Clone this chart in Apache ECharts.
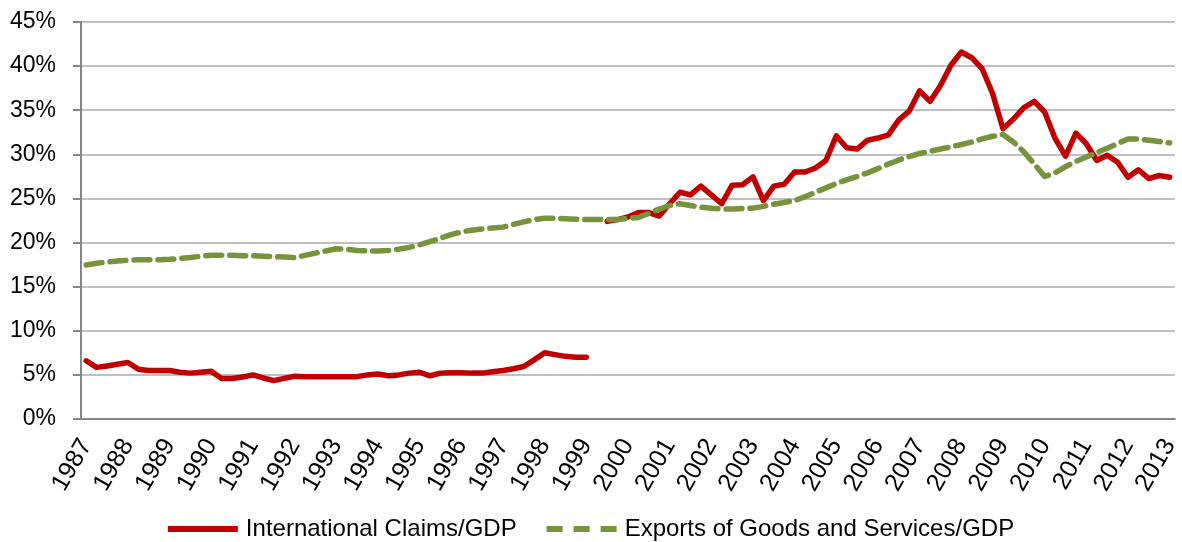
<!DOCTYPE html>
<html>
<head>
<meta charset="utf-8">
<title>International Claims vs Exports / GDP</title>
<script src="https://cdn.jsdelivr.net/npm/echarts@6/dist/echarts.min.js"></script>
<style>
  html, body { margin: 0; padding: 0; background: #fff; }
  #chart { width: 1182px; height: 542px; }
</style>
</head>
<body>
<div id="chart"></div>
<script>
  // year tick labels (one category per quarter, Q1 of each year gets the label)
  const years = [1987, 1988, 1989, 1990, 1991, 1992, 1993, 1994, 1995, 1996, 1997, 1998, 1999,
    2000, 2001, 2002, 2003, 2004, 2005, 2006, 2007, 2008, 2009, 2010, 2011, 2012, 2013];

  // International Claims/GDP, %, quarterly 1987Q1 - 2013Q1 (break at 1999Q2)
  const claimsGdp = [
    6.6, 5.85, 6.0, 6.2,  6.4, 5.65, 5.5, 5.5,  5.5, 5.3, 5.2, 5.3,
    5.4, 4.6, 4.6, 4.75,  5.0, 4.65, 4.35, 4.6,  4.85, 4.8, 4.8, 4.8,
    4.8, 4.8, 4.8, 5.0,  5.1, 4.9, 5.0, 5.2,  5.3, 4.9, 5.2, 5.25,
    5.25, 5.2, 5.2, 5.35,  5.5, 5.7, 5.95, 6.7,  7.5, 7.3, 7.1, 7.0,
    7.0, null, 22.4, 22.6,  22.9, 23.4, 23.4, 23.0,  24.4, 25.7, 25.4, 26.4,
    25.4, 24.4, 26.5, 26.55,  27.45, 24.75, 26.4, 26.6,  28.0, 28.0, 28.45, 29.3,
    32.1, 30.75, 30.6, 31.6,  31.85, 32.2, 33.9, 34.9,  37.2, 36.0, 37.8, 40.1,
    41.6, 40.95, 39.7, 36.9,  32.9, 34.0, 35.3, 36.0,  34.8, 31.8, 29.8, 32.4,
    31.2, 29.3, 29.9, 29.1,  27.4, 28.25, 27.25, 27.6,  27.4
  ];

  // Exports of Goods and Services/GDP, %, quarterly 1987Q1 - 2013Q1
  const exportsGdp = [
    17.45, 17.65, 17.8, 17.9,  18.0, 18.05, 18.05, 18.05,  18.1, 18.2, 18.3, 18.45,
    18.55, 18.55, 18.55, 18.5,  18.5, 18.45, 18.4, 18.35,  18.3, 18.55, 18.8, 19.05,
    19.3, 19.25, 19.1, 19.05,  19.05, 19.1, 19.25, 19.45,  19.75, 20.1, 20.5, 20.9,
    21.2, 21.4, 21.55, 21.65,  21.75, 22.05, 22.35, 22.6,  22.75, 22.75, 22.7, 22.65,
    22.6, 22.6, 22.6, 22.6,  22.75, 22.85, 23.3, 23.8,  24.2, 24.4, 24.2, 24.0,
    23.9, 23.8, 23.8, 23.85,  23.9, 24.1, 24.35, 24.55,  24.75, 25.2, 25.7, 26.2,
    26.7, 27.1, 27.5, 27.9,  28.4, 28.9, 29.35, 29.75,  30.1, 30.35, 30.6, 30.85,
    31.1, 31.4, 31.75, 32.05,  32.25, 31.4, 30.3, 28.9,  27.5, 27.9, 28.6, 29.2,
    29.7, 30.2, 30.7, 31.2,  31.75, 31.75, 31.6, 31.45,  31.3
  ];

  // build quarter categories from the years (stops at Q1 of the last year)
  const quarters = []
  years.forEach((y, idx) => {
    const last = idx === years.length - 1
    for (let q = 1; q <= (last ? 1 : 4); q++) {
      quarters.push(y + ' Q' + q)
    }
  })

  const font = 'Liberation Sans, Arial, sans-serif'
  const red = '#C00000'
  const green = '#77933C'
  const myChart = echarts.init(document.getElementById('chart'))
  const myOption = {
    backgroundColor: '#fff',
    animation: false,
    textStyle: { fontFamily: font },
    grid: {
      left: 81,
      right: 5,
      top: 22,
      bottom: 123,
      containLabel: false
    },
    // legend icons: solid bar for claims, three dashes for exports
    legend: {
      top: 512,
      left: 'center',
      itemWidth: 70,
      itemHeight: 6,
      itemGap: 30,
      textStyle: { fontSize: 24, color: '#000', fontFamily: font, padding: [0, 0, 0, 3] },
      data: [
        { name: 'International Claims/GDP', icon: 'path://M0,0H70V6H0Z' },
        { name: 'Exports of Goods and Services/GDP', icon: 'path://M0,0H16V6H0Z M27,0H43V6H27Z M54,0H70V6H54Z' }
      ]
    },
    xAxis: {
      type: 'category',
      data: quarters,
      boundaryGap: true,
      axisLine: { lineStyle: { color: '#868686', width: 2 } },
      axisTick: {
        interval: 3,
        length: 8,
        lineStyle: { color: '#868686', width: 2 }
      },
      axisLabel: {
        interval: 3,
        rotate: 60,
        margin: 22,
        fontSize: 25,
        color: '#000',
        formatter: v => v.slice(0, 4)
      },
      splitLine: { show: false }
    },
    yAxis: {
      type: 'value',
      min: 0,
      max: 45,
      interval: 5,
      axisLine: { show: true, lineStyle: { color: '#868686', width: 2 } },
      axisTick: { show: true, length: 8, lineStyle: { color: '#868686', width: 2 } },
      axisLabel: { fontSize: 23, color: '#000', margin: 25, formatter: '{value}%' },
      splitLine: { lineStyle: { color: '#C0C0C0', width: 2 } }
    },
    series: [
      {
        name: 'International Claims/GDP',
        type: 'line',
        data: claimsGdp,
        symbol: 'none',
        connectNulls: false,
        lineStyle: { color: red, width: 5.5, join: 'round', cap: 'round' },
        itemStyle: { color: red }
      },
      {
        name: 'Exports of Goods and Services/GDP',
        type: 'line',
        data: exportsGdp,
        symbol: 'none',
        lineStyle: { color: green, width: 5.5, type: [16, 8], cap: 'round', join: 'round' },
        itemStyle: { color: green }
      }
    ]
  }
  myChart.setOption(myOption)
</script>
</body>
</html>
